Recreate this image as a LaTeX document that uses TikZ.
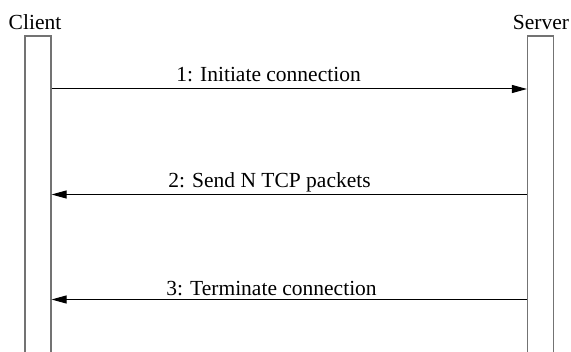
\documentclass[tikz,border=0pt]{standalone}
\usepackage{fontspec}
\setmainfont{Liberation Serif}
\usetikzlibrary{arrows.meta}
\begin{document}
\begin{tikzpicture}[x=1pt,y=-1pt,
  lifeline/.style={draw=black!55,line width=1.1pt,minimum width=26pt,minimum height=330pt,inner sep=0pt,anchor=north,fill=white},
  actor/.style={font=\fontsize{21.5}{24}\selectfont,anchor=base,inner sep=0pt},
  msglabel/.style={font=\fontsize{21.5}{24}\selectfont,anchor=base,inner sep=0pt},
  msg/.style={line width=1pt,-{Triangle[length=15pt,width=8pt]}}]
\useasboundingbox (0,0) rectangle (571,352);
\node[lifeline] (client) at (38,35.5) {};
\node[lifeline] (server) at (540.5,35.5) {};
\node[actor] (clientlbl) at (35,30) {Client};
\node[actor] (serverlbl) at (541,30) {Server};
\draw[msg] (client.east |- 0,89) -- (server.west |- 0,89);
\draw[msg] (server.west |- 0,194.5) -- (client.east |- 0,194.5);
\draw[msg] (server.west |- 0,299.5) -- (client.east |- 0,299.5);
\node[msglabel] (l1) at (268.5,82) {1: Initiate connection};
\node[msglabel] (l2) at (269.5,188) {2: Send N TCP packets};
\node[msglabel] (l3) at (271.5,295.5) {3: Terminate connection};
\end{tikzpicture}
\end{document}
